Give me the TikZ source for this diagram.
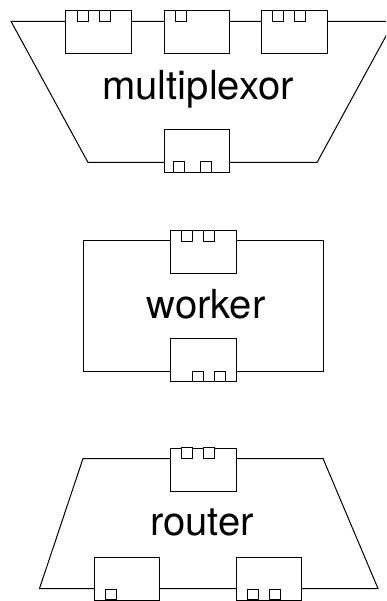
\documentclass[tikz,border=0pt]{standalone}
\usepackage{fontspec}
\setmainfont{TeX Gyre Heros}
\tikzset{
  x=1pt,y=-1pt,
  body/.style={draw=black,line width=1pt,line join=miter},
  chan/.style={draw=black,fill=white,line width=1pt,inner sep=0pt,outer sep=0pt,minimum width=65.5pt,minimum height=43pt},
  port/.style={draw=black,fill=white,line width=1pt,inner sep=0pt,outer sep=0pt,minimum width=11pt,minimum height=10.5pt},
  title/.style={font=\fontsize{40pt}{42pt}\selectfont,anchor=base,inner sep=0pt}
}
\begin{document}
\begin{tikzpicture}
\path[use as bounding box,fill=white] (0,0) rectangle (386,601);
\clip (0,0) rectangle (386,601);
% multiplexor
\coordinate (m1) at (11,21.3);
\coordinate (m2) at (394,21.3);
\coordinate (m3) at (317,162.5);
\coordinate (m4) at (88,162.5);
\draw[body] (m1) -- (m2) -- (m3) -- (m4) -- cycle;
\node[chan] (ma) at (98.5,31.8) {};
\node[chan] (mb) at (197,31.8) {};
\node[chan] (mc) at (294.5,31.8) {};
\node[chan] (md) at (197,150.8) {};
\node[port] (ma1) at (82.5,15.8) {};
\node[port] (ma2) at (104.5,15.8) {};
\node[port] (mb1) at (180.5,15.8) {};
\node[port] (mc1) at (278,15.8) {};
\node[port] (mc2) at (300,15.8) {};
\node[port] (md1) at (178.5,166.8) {};
\node[port] (md2) at (206,166.8) {};
\node[title] (mt) at (198,99.3) {multiplexor};
% worker
\coordinate (w1) at (83.5,241);
\coordinate (w2) at (323,241);
\coordinate (w3) at (323,371);
\coordinate (w4) at (83.5,371);
\draw[body] (w1) -- (w2) -- (w3) -- (w4) -- cycle;
\node[chan] (wa) at (203.5,252.2) {};
\node[chan] (wb) at (203.5,360.2) {};
\node[port] (wa1) at (187,235.8) {};
\node[port] (wa2) at (209,235.8) {};
\node[port] (wb1) at (198,376.5) {};
\node[port] (wb2) at (220,376.5) {};
\node[title] (wt) at (206,318) {worker};
% router
\coordinate (r1) at (83,458.5);
\coordinate (r2) at (323,458.5);
\coordinate (r3) at (378,588.5);
\coordinate (r4) at (39.5,588.5);
\draw[body] (r1) -- (r2) -- (r3) -- (r4) -- cycle;
\node[chan] (ra) at (203.5,469.5) {};
\node[chan] (rb) at (127,578.5) {};
\node[chan] (rc) at (268.8,578.5) {};
\node[port] (ra1) at (187,453) {};
\node[port] (ra2) at (209,453) {};
\node[port] (rb1) at (110.5,594.5) {};
\node[port] (rc1) at (253,594.5) {};
\node[port] (rc2) at (275,594.5) {};
\node[title] (rt) at (202,535.7) {router};
\end{tikzpicture}
\end{document}
